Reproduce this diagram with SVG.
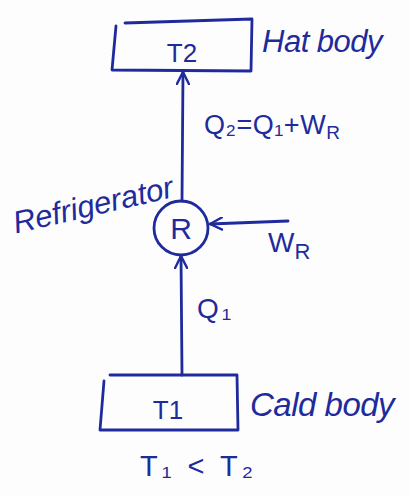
<svg xmlns="http://www.w3.org/2000/svg" width="410" height="495" viewBox="0 0 410 495">
  <style>
    .ink { stroke: #1f2b9c; stroke-width: 2.8; fill: none; stroke-linecap: round; stroke-linejoin: round; }
    .txt { fill: #1f2b9c; font-family: "Liberation Sans", "DejaVu Sans", sans-serif; }
  </style>
  <defs>
    <marker id="head" viewBox="0 0 14 14" refX="13" refY="7" markerWidth="14" markerHeight="14" markerUnits="userSpaceOnUse" orient="auto">
      <path d="M1,1 L13,7 L1,13" fill="none" stroke="#1f2b9c" stroke-width="2.4" stroke-linecap="round"/>
    </marker>
  </defs>
  <rect width="410" height="495" fill="#fdfdfd"/>

  <!-- hot reservoir -->
  <g id="hot-body">
    <path class="ink" d="M116,26 L112,70 L251,71 L252,19 L125,23"/>
    <text class="txt" x="182" y="62" font-size="26" text-anchor="middle">T2</text>
    <text class="txt" x="262" y="52" font-size="31" font-style="italic" letter-spacing="-0.5">Hat body</text>
  </g>

  <!-- refrigerator -->
  <g id="refrigerator">
    <circle class="ink" cx="181" cy="228" r="27"/>
    <text class="txt" x="181" y="239" font-size="30" text-anchor="middle">R</text>
    <text class="txt" x="10" y="216" font-size="31" font-style="italic" letter-spacing="0" transform="rotate(-13 90 200)">Refrigerator</text>
  </g>

  <!-- cold reservoir -->
  <g id="cold-body">
    <path class="ink" d="M104,381 L100,430 L238,430 L237,375 L110,375"/>
    <text class="txt" x="168" y="419" font-size="26" text-anchor="middle">T1</text>
    <text class="txt" x="250" y="416" font-size="33" font-style="italic" letter-spacing="-0.5">Cald body</text>
    <text class="txt" x="140" y="476" font-size="29" letter-spacing="4" xml:space="preserve">T₁ &lt; T₂</text>
  </g>

  <!-- heat and work flows -->
  <g id="connectors">
    <line class="ink" x1="182" y1="201" x2="183" y2="72" marker-end="url(#head)"/>
    <line class="ink" x1="182" y1="375" x2="181" y2="256" marker-end="url(#head)"/>
    <line class="ink" x1="288" y1="221" x2="210" y2="224" marker-end="url(#head)"/>
    <text class="txt" x="204" y="134" font-size="27" letter-spacing="0.5">Q₂=Q₁+W<tspan font-size="19" dy="5">R</tspan></text>
    <text class="txt" x="268" y="252" font-size="28">W<tspan font-size="22" dy="7">R</tspan></text>
    <text class="txt" x="197" y="318" font-size="28" letter-spacing="3">Q₁</text>
  </g>
</svg>
